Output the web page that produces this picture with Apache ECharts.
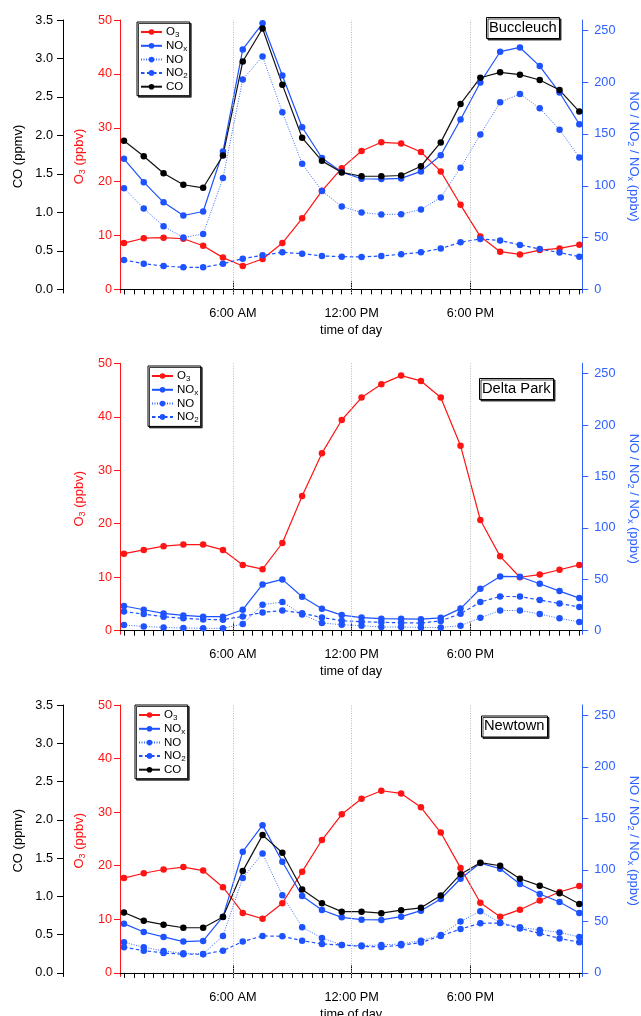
<!DOCTYPE html>
<html><head><meta charset="utf-8">
<script src="https://cdn.jsdelivr.net/npm/echarts@6/dist/echarts.min.js"></script>
<style>html,body{margin:0;padding:0;background:#fff}#c{width:641px;height:1016px}</style>
</head><body><div id="c"></div>
<script>
// ---------- data ----------
const hours = [0.5,1.5,2.5,3.5,4.5,5.5,6.5,7.5,8.5,9.5,10.5,11.5,12.5,13.5,14.5,15.5,16.5,17.5,18.5,19.5,20.5,21.5,22.5,23.5];
const xMajorHours = [6, 12, 18];
const xMajorLabels = ['6:00 AM', '12:00 PM', '6:00 PM'];
const xMinorHours = [0.5,1,1.5,2,2.5,3,3.5,4,4.5,5,5.5,6,6.5,7,7.5,8,8.5,9,9.5,10,10.5,11,11.5,12,12.5,13,13.5,14,14.5,15,15.5,16,16.5,17,17.5,18,18.5,19,19.5,20,20.5,21,21.5,22,22.5,23,23.5];
const o3Ticks = [0, 10, 20, 30, 40, 50];
const noxTicks = [0, 50, 100, 150, 200, 250];
const coTicks = [0, 0.5, 1.0, 1.5, 2.0, 2.5, 3.0, 3.5];
const siteNames = ['Buccleuch', 'Delta Park', 'Newtown'];

// Buccleuch
const bucO3  = [8.6,9.5,9.6,9.4,8.1,5.9,4.35,5.65,8.6,13.2,18.3,22.5,25.7,27.3,27.1,25.5,21.9,15.7,9.8,7.0,6.5,7.3,7.6,8.3];
const bucNOx = [126,103.5,84,71.3,75.2,133,231.6,256.8,206.5,156.5,126.8,113.2,106.8,106.5,107.1,113.9,129.4,163.9,199.7,229.4,233.5,215.5,190,159.4];
const bucNO  = [97.7,78.1,61,50,53.5,107.4,202.6,224.8,171,121.3,95,80,74.2,72.3,72.6,77.1,88.7,117.4,149.4,180.6,188.7,174.8,154.2,127.4];
const bucNO2 = [28.4,24.8,22.6,21.3,21.3,24.8,29.7,32.9,35.8,34.5,32.3,31.6,31.3,32.3,33.9,35.8,39.4,45.5,48.7,47.1,42.9,39,35.5,31.6];
const bucCO  = [1.93,1.73,1.51,1.36,1.32,1.74,2.96,3.39,2.66,1.97,1.67,1.52,1.47,1.47,1.48,1.60,1.91,2.41,2.75,2.82,2.79,2.72,2.59,2.31];

// Delta Park
const delO3  = [14.4,15.1,15.8,16.1,16.1,15.1,12.3,11.5,16.4,25.2,33.2,39.4,43.6,46.1,47.7,46.7,43.6,34.6,20.7,13.9,10.0,10.5,11.4,12.3];
const delNOx = [24,20.4,16.8,14.9,13.6,13.6,20.4,45,49.9,33,21.4,15.2,12.8,11.7,11.5,11.2,12.5,21.5,40.8,52.8,52.5,45.7,38.5,31.7];
const delNO  = [5.5,4.2,3.2,2.6,2.3,2.3,6.5,25.3,27.9,15.8,7.5,5.8,4.9,3.6,3.6,3.2,3.1,4.9,12.6,19.7,19.7,16.2,12,8.5];
const delNO2 = [18.6,16.2,13.6,12,11,10.7,13.9,17.8,19.7,17.0,12.8,9.7,8.8,8.1,7.8,7.4,9.5,16.5,27.9,33.3,33.2,29.8,26.5,23];

// Newtown
const newO3  = [17.7,18.6,19.3,19.75,19.1,16.0,11.2,10.1,13.0,18.9,24.8,29.6,32.5,34.0,33.5,30.9,26.2,19.6,13.1,10.5,11.8,13.5,15.1,16.2];
const newNOx = [47.8,39.7,34.9,30.4,31,54.6,117.6,143.4,107.9,74.6,61,53.9,51.7,51.4,54.6,60.4,71.7,91.4,106.6,101.1,86.2,76.6,68.8,58.1];
const newNO  = [29.7,24.9,21.3,19.1,18.4,35.9,92.1,116,75.3,44.3,33.9,27.1,26.5,27.1,28.1,31.3,36.8,49.9,59.8,48.7,44.2,41.7,39.3,34.9];
const newNO2 = [25.0,21.6,19.4,18.1,18.1,21.6,30.4,35.9,35.5,31.3,28.1,27.1,25.8,25.2,26.8,29.4,35.9,42.6,48.1,48.4,43.2,38.4,33.5,29.7];
const newCO  = [0.79,0.68,0.63,0.59,0.59,0.73,1.33,1.80,1.57,1.09,0.91,0.80,0.80,0.78,0.82,0.85,1.01,1.29,1.44,1.40,1.23,1.14,1.04,0.90];

// ---------- styling ----------
const FONT = "'Liberation Sans', Arial, sans-serif";
const RED = '#ff1414';
const BLUE = '#1d52ff';
const AXBLUE = '#2d60ff';
const rich = {
  m: {fontFamily: FONT, fontSize: 13},
  s: {fontFamily: FONT, fontSize: 9, padding: [6, 0, 0, 0]},
  lm: {fontFamily: FONT, fontSize: 11.5, color: '#000'},
  ls: {fontFamily: FONT, fontSize: 8, padding: [5, 0, 0, 0], color: '#000'}
};
const legendRich = {O3: '{lm|O}{ls|3}', NOx: '{lm|NO}{ls|x}', NO: '{lm|NO}', NO2: '{lm|NO}{ls|2}', CO: '{lm|CO}'};

const panels = [
  {site: siteNames[0], top: 20, height: 273, o3: bucO3, nox: bucNOx, no: bucNO, no2: bucNO2, co: bucCO,
   legend: {left: 137, top: 22}, title: {left: 486, top: 17}},
  {site: siteNames[1], top: 363.3, height: 271, o3: delO3, nox: delNOx, no: delNO, no2: delNO2, co: null,
   legend: {left: 148, top: 366}, title: {left: 479, top: 378}},
  {site: siteNames[2], top: 705, height: 271.5, o3: newO3, nox: newNOx, no: newNO, no2: newNO2, co: newCO,
   legend: {left: 135, top: 705}, title: {left: 481, top: 715.5}}
];
const GAP = 3.6; // px between zero line and x-axis line

const grids = [], xAxes = [], yAxes = [], series = [], legends = [], titles = [];

function pairs(arr) { return arr.map((v, i) => [hours[i], v]); }

panels.forEach((p, pi) => {
  grids.push({left: 120, width: 462.3, top: p.top, height: p.height, containLabel: false, outerBoundsMode: 'none'});
  const frac = GAP / (p.height - GAP);
  const xMain = xAxes.length;
  xAxes.push({
    type: 'value', gridIndex: pi, min: 0.3, max: 23.65,
    name: 'time of day', nameLocation: 'middle', nameGap: 31,
    nameTextStyle: {fontFamily: FONT, fontSize: 12.7, color: '#000'},
    axisLine: {show: true, lineStyle: {color: '#000', width: 1}},
    axisTick: {show: true, customValues: xMinorHours, length: 5, lineStyle: {color: '#000'}},
    axisLabel: {show: true, customValues: xMajorHours, margin: 14, fontFamily: FONT, fontSize: 12.7, color: '#000',
      formatter: v => xMajorLabels[xMajorHours.indexOf(v)] || ''},
    splitLine: {show: false}
  });
  xAxes.push({
    type: 'value', gridIndex: pi, min: 0.3, max: 23.65,
    axisLine: {show: false}, axisLabel: {show: false}, splitLine: {show: false},
    axisTick: {show: true, customValues: xMajorHours, length: 8, lineStyle: {color: '#000'}}
  });
  let coIdx = null;
  if (p.co) {
    coIdx = yAxes.length;
    yAxes.push({
      type: 'value', gridIndex: pi, position: 'left', offset: 57,
      min: -3.5 * frac, max: 3.5,
      name: 'CO (ppmv)', nameLocation: 'middle', nameGap: 33, nameRotate: 90,
      nameTextStyle: {fontFamily: FONT, fontSize: 13, color: '#000'},
      axisLine: {show: true, lineStyle: {color: '#000'}},
      axisTick: {show: true, customValues: coTicks, length: 6, lineStyle: {color: '#000'}},
      axisLabel: {customValues: coTicks, margin: 10, fontFamily: FONT, fontSize: 12.7, color: '#000', formatter: v => v.toFixed(1)},
      splitLine: {show: false}
    });
  }
  const o3Idx = yAxes.length;
  yAxes.push({
    type: 'value', gridIndex: pi, position: 'left',
    min: -50 * frac, max: 50,
    name: '{m|O}{s|3}{m| (ppbv)}', nameLocation: 'middle', nameGap: 32, nameRotate: 90,
    nameTextStyle: {color: RED, rich: {m: Object.assign({}, rich.m, {color: RED}), s: Object.assign({}, rich.s, {color: RED})}},
    axisLine: {show: true, lineStyle: {color: RED}},
    axisTick: {show: true, customValues: o3Ticks, length: 6, lineStyle: {color: RED}},
    axisLabel: {customValues: o3Ticks, margin: 8, fontFamily: FONT, fontSize: 12.7, color: RED},
    splitLine: {show: false}
  });
  const noxIdx = yAxes.length;
  yAxes.push({
    type: 'value', gridIndex: pi, position: 'right',
    min: -260 * frac, max: 260,
    name: '{m|NO / NO}{s|2}{m| / NO}{s|x}{m| (ppbv)}', nameLocation: 'middle', nameGap: 44, nameRotate: -90,
    nameTextStyle: {color: AXBLUE, rich: {m: Object.assign({}, rich.m, {color: AXBLUE}), s: Object.assign({}, rich.s, {color: AXBLUE})}},
    axisLine: {show: true, lineStyle: {color: AXBLUE}},
    axisTick: {show: true, customValues: noxTicks, length: 6, lineStyle: {color: AXBLUE}},
    axisLabel: {customValues: noxTicks, margin: 12, fontFamily: FONT, fontSize: 12.7, color: AXBLUE},
    splitLine: {show: false}
  });

  const base = {type: 'line', xAxisIndex: xMain, symbol: 'circle', symbolSize: 6.5, animation: false};
  series.push(Object.assign({}, base, {
    name: 'O3', yAxisIndex: o3Idx, data: pairs(p.o3), z: 3,
    itemStyle: {color: RED}, lineStyle: {color: RED, width: 1.2},
    markLine: {silent: true, symbol: 'none', label: {show: false},
      lineStyle: {color: '#b8b8b8', type: [1, 1.5], width: 1},
      data: xMajorHours.map(h => ({xAxis: h}))}
  }));
  series.push(Object.assign({}, base, {
    name: 'NOx', yAxisIndex: noxIdx, data: pairs(p.nox),
    itemStyle: {color: BLUE}, lineStyle: {color: BLUE, width: 1.2}
  }));
  series.push(Object.assign({}, base, {
    name: 'NO', yAxisIndex: noxIdx, data: pairs(p.no),
    itemStyle: {color: BLUE}, lineStyle: {color: '#3d6cff', width: 1, type: [1, 1.5]}
  }));
  series.push(Object.assign({}, base, {
    name: 'NO2', yAxisIndex: noxIdx, data: pairs(p.no2),
    itemStyle: {color: BLUE}, lineStyle: {color: BLUE, width: 1.2, type: [3.5, 2.5]}
  }));
  const legNames = ['O3', 'NOx', 'NO', 'NO2'];
  if (p.co) {
    series.push(Object.assign({}, base, {
      name: 'CO', yAxisIndex: coIdx, data: pairs(p.co),
      itemStyle: {color: '#000'}, lineStyle: {color: '#111', width: 1.2}
    }));
    legNames.push('CO');
  }
  legends.push({
    orient: 'vertical', left: p.legend.left, top: p.legend.top,
    data: legNames, selectedMode: false,
    itemWidth: 21, itemHeight: 7, itemGap: 1.3,
    padding: [4, 2, 3, 3],
    backgroundColor: '#fff', borderColor: '#000', borderWidth: 1,
    shadowColor: 'rgba(0,0,0,0.75)', shadowOffsetX: 1.5, shadowOffsetY: 1.5, shadowBlur: 0,
    formatter: n => legendRich[n],
    textStyle: {fontFamily: FONT, fontSize: 11.5, color: '#000', padding: [0,0,0,-1], rich: {lm: rich.lm, ls: rich.ls}}
  });
  titles.push({
    text: p.site, left: p.title.left, top: p.title.top,
    padding: [3, 3, 4, 3],
    backgroundColor: '#fff', borderColor: '#000', borderWidth: 1,
    shadowColor: 'rgba(0,0,0,0.75)', shadowOffsetX: 1.5, shadowOffsetY: 1.5, shadowBlur: 0,
    textStyle: {fontFamily: FONT, fontSize: 14.7, fontWeight: 'normal', color: '#000'}
  });
});

const chart = echarts.init(document.getElementById('c'), null, {renderer: 'canvas'});
chart.setOption({
  animation: false,
  backgroundColor: '#fff',
  title: titles,
  legend: legends,
  grid: grids,
  xAxis: xAxes,
  yAxis: yAxes,
  series: series
});
</script></body></html>
